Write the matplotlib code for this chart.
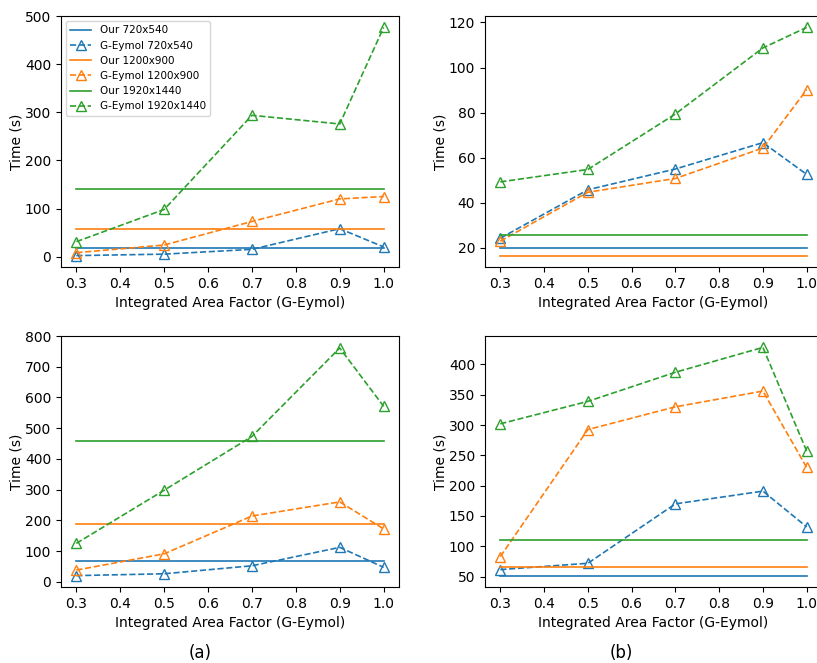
import numpy as np
import matplotlib.pyplot as plt

factors = [0.3, 0.5, 0.7, 0.9, 1.0]
sizes = ['720x540', '1200x900', '1920x1440']
colors = ['tab:blue', 'tab:orange', 'tab:green']

# (a) top
a_top_ours = [17, 57, 141]
a_top_geymol = [
    [2, 5, 15, 58, 20],
    [8, 24, 73, 120, 125],
    [31, 98, 294, 276, 477],
]
# (b) top
b_top_ours = [19.9, 16.6, 25.6]
b_top_geymol = [
    [24.3, 45.8, 55.0, 66.7, 52.6],
    [23.0, 44.7, 50.8, 64.3, 90.2],
    [49.3, 54.8, 79.4, 108.7, 117.8],
]
# (a) bottom
a_bot_ours = [66, 189, 457]
a_bot_geymol = [
    [20, 26, 52, 112, 47],
    [38, 91, 214, 260, 172],
    [125, 298, 473, 761, 571],
]
# (b) bottom
b_bot_ours = [51.7, 65.5, 110]
b_bot_geymol = [
    [61.6, 72, 170, 191, 132],
    [83, 292.5, 330, 356, 230],
    [302, 339, 387, 428, 257],
]

W, H = 817, 663
fig = plt.figure(figsize=(W / 100, H / 100), dpi=100)


def ax_at(x0, y0, x1, y1):
    return fig.add_axes([x0 / W, 1 - y1 / H, (x1 - x0) / W, (y1 - y0) / H])


def panel(ax, ours, geymol, legend=False):
    for i in range(3):
        ax.plot([factors[0], factors[-1]], [ours[i], ours[i]], '-',
                color=colors[i], lw=1.2, label='Our ' + sizes[i])
        ax.plot(factors, geymol[i], '--^', color=colors[i], lw=1.2,
                markersize=7, markerfacecolor='none',
                label='G-Eymol ' + sizes[i])
    ax.set_xticks([0.3, 0.4, 0.5, 0.6, 0.7, 0.8, 0.9, 1.0])
    ax.tick_params(labelsize=10)
    ax.set_xlabel('Integrated Area Factor (G-Eymol)', fontsize=10)
    ax.set_ylabel('Time (s)', fontsize=10, labelpad=1)
    if legend:
        ax.legend(loc='upper left', fontsize=7.5)


ax1 = ax_at(61, 16, 399, 267)
panel(ax1, a_top_ours, a_top_geymol, legend=True)
ax1.set_yticks([0, 100, 200, 300, 400, 500])

ax2 = ax_at(485, 16, 822, 267)
panel(ax2, b_top_ours, b_top_geymol)
ax2.set_yticks([20, 40, 60, 80, 100, 120])

ax3 = ax_at(61, 336, 399, 587)
panel(ax3, a_bot_ours, a_bot_geymol)
ax3.set_yticks([0, 100, 200, 300, 400, 500, 600, 700, 800])

ax4 = ax_at(485, 336, 822, 587)
panel(ax4, b_bot_ours, b_bot_geymol)
ax4.set_yticks([50, 100, 150, 200, 250, 300, 350, 400])

fig.text(200 / W, 1 - 653 / H, '(a)', ha='center', va='center', fontsize=12)
fig.text(621 / W, 1 - 653 / H, '(b)', ha='center', va='center', fontsize=12)

fig.savefig('out.png', dpi=100)
